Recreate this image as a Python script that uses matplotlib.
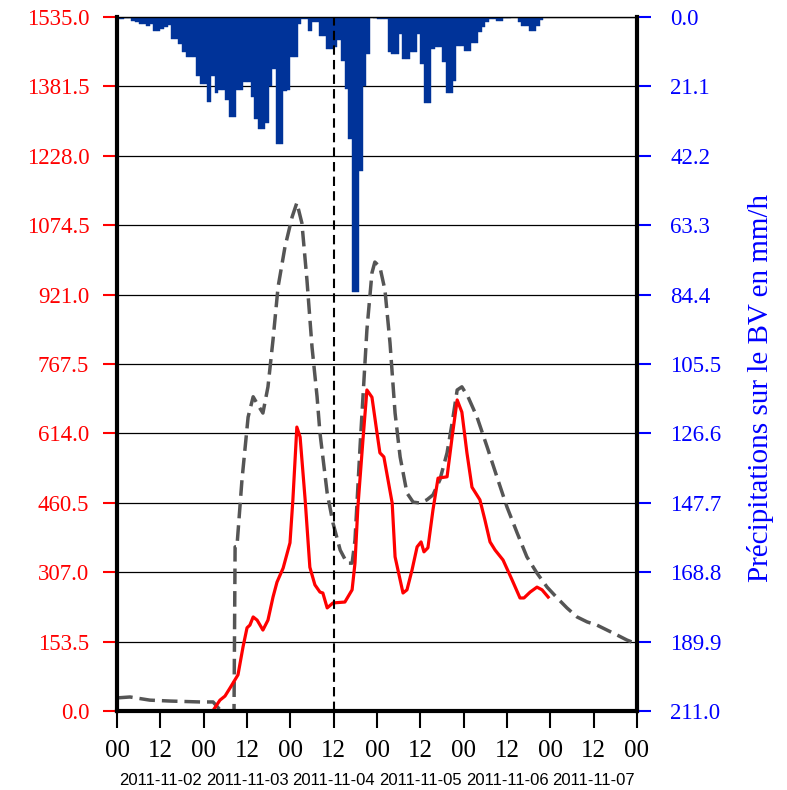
import numpy as np
import pandas as pd
import matplotlib
matplotlib.use("Agg")
import matplotlib.pyplot as plt
import matplotlib.dates as mdates

plt.rcParams['font.family'] = ['Liberation Serif', 'DejaVu Serif']

start = pd.Timestamp("2011-11-02 00:00")

# hourly rainfall over the catchment (mm/h), first value = 2011-11-02 00h
rain = [0.6, 0.6, 0.3, 0.3, 1.2, 1.5, 2.1, 2.1, 2.7, 2.1, 4.2, 4.2,
        3.6, 3.0, 2.4, 6.7, 6.7, 8.2, 10.6, 12.2, 12.2, 12.2, 17.9, 20.4,
        20.4, 25.8, 17.9, 23.1, 22.2, 22.2, 25.2, 30.4, 30.4, 22.2, 22.2, 19.8,
        19.8, 24.3, 31.0, 34.1, 34.1, 32.2, 21.0, 15.8, 38.6, 38.6, 22.5, 22.2,
        12.2, 12.2, 2.1, 0.6, 0.6, 4.3, 1.5, 1.5, 5.8, 5.8, 9.7, 9.7,
        9.1, 7.0, 13.4, 21.9, 37.1, 83.6, 83.6, 46.8, 21.0, 11.2, 0.0, 0.3,
        0.6, 0.6, 0.6, 10.6, 11.2, 11.2, 5.2, 12.8, 12.8, 10.6, 10.6, 5.2,
        14.3, 26.1, 26.1, 9.7, 9.1, 9.1, 13.7, 23.1, 23.1, 19.5, 8.8, 8.8,
        10.3, 10.3, 7.9, 7.9, 4.6, 3.0, 1.5, 0.6, 0.6, 1.2, 1.2, 0.3,
        0.3, 0.1, 0.1, 1.5, 2.7, 2.7, 4.3, 4.3, 2.7, 0.9]

# observed discharge (hours after start, value)
obs_hours = [0, 24.4, 26.5, 28.5, 29.9, 31.3, 33.5, 34.9, 36.0, 36.8, 37.7, 38.8,
             40.4, 41.8, 43.2, 44.3, 46.0, 47.9, 48.7, 49.8, 50.7, 52.1, 53.4, 54.8,
             56.2, 57.0, 58.2, 59.8, 63.1, 65.1, 65.9, 66.7, 68.1, 69.2, 70.6, 72.0,
             72.8, 73.9, 76.2, 77.0, 78.4, 79.2, 80.3, 81.7, 83.1, 84.2, 85.0, 86.1,
             87.5, 88.9, 91.4, 92.8, 94.2, 95.5, 96.9, 98.3, 100.5, 101.9, 103.3, 104.7,
             106.9, 109.4, 111.6, 112.7, 114.4, 116.3, 117.7, 119.4]
obs_values = [0, 0, 0, 24, 33, 51, 80, 142, 184, 190, 208, 201,
              179, 201, 252, 285, 316, 372, 467, 628, 606, 467, 318, 279,
              263, 261, 228, 239, 241, 268, 327, 451, 599, 710, 694, 615,
              571, 562, 460, 341, 290, 261, 268, 312, 363, 374, 352, 361,
              445, 515, 518, 606, 688, 661, 571, 495, 467, 422, 374, 356,
              334, 290, 250, 250, 263, 274, 268, 252]

# simulated discharge (hours after start, value)
sim_hours = [0, 3.6, 9.1, 14.7, 23.0, 26.6, 28.8, 32.4, 32.7, 33.2, 34.6, 36.3,
             37.7, 39.0, 40.4, 41.8, 43.2, 44.6, 46.5, 48.5, 49.8, 51.2, 52.6, 54.0,
             55.4, 56.2, 58.2, 59.8, 61.8, 63.7, 65.1, 65.9, 67.3, 69.2, 70.6, 71.4,
             72.8, 74.2, 75.6, 77.0, 78.4, 80.3, 82.0, 83.9, 85.8, 87.5, 89.4, 91.4,
             92.8, 94.2, 95.5, 97.2, 99.7, 102.5, 105.2, 108.0, 110.8, 113.5, 116.3, 119.1,
             121.9, 124.6, 127.4, 130.2, 132.9, 135.7, 138.5, 141.2, 144.0]
sim_values = [29, 31, 24, 22, 20, 20, 0, 0, 363, 363, 511, 650,
              695, 677, 659, 717, 821, 938, 1026, 1093, 1124, 1079, 953, 805,
              695, 615, 482, 416, 356, 327, 327, 378, 584, 843, 969, 993,
              982, 931, 814, 659, 562, 482, 462, 460, 467, 478, 511, 571,
              637, 710, 717, 695, 650, 584, 518, 451, 394, 341, 305, 274,
              250, 228, 208, 197, 190, 179, 168, 157, 148]

q_ticks = np.arange(0, 1535.1, 153.5)
p_ticks = np.arange(0, 211.05, 21.1)
day_labels = ["2011-11-02", "2011-11-03", "2011-11-04", "2011-11-05", "2011-11-06", "2011-11-07"]
event_hour = 60

rain_t = start + pd.to_timedelta(np.arange(len(rain)), unit="h")
obs_t = start + pd.to_timedelta(obs_hours, unit="h")
sim_t = start + pd.to_timedelta(sim_hours, unit="h")

fig = plt.figure(figsize=(7.87, 7.90), dpi=100)
ax = fig.add_axes([0.1487, 0.1, 0.6607, 0.8785])

ax.grid(axis="y", color="black", linewidth=0.9)
ax.set_axisbelow(True)
ax.plot(sim_t, sim_values, color="#555555", linewidth=2.5, dashes=(4.5, 2))
ax.plot(obs_t, obs_values, color="red", linewidth=2.3)

ax.set_xlim(start, start + pd.Timedelta(days=6))
ax.set_ylim(0, 1535)
ax.set_yticks(q_ticks)
ax.set_yticklabels(["%.1f" % v for v in q_ticks])
ax.tick_params(axis="y", colors="red", length=10, width=1.5, labelsize=16.5, pad=10)
ax.xaxis.set_major_locator(mdates.HourLocator(byhour=[0, 12]))
ax.xaxis.set_major_formatter(mdates.DateFormatter("%H"))
ax.tick_params(axis="x", colors="black", length=12, width=1.5, labelsize=18, pad=9)
for s in ax.spines.values():
    s.set_visible(False)

for i, lab in enumerate(day_labels):
    x = mdates.date2num(start + pd.Timedelta(hours=24 * i + 12))
    ax.text(x, -0.1, lab, transform=ax.get_xaxis_transform(), ha="center", va="center",
            fontsize=12, family="Liberation Sans")

# rainfall hangs from the top on the right axis
ax2 = ax.twinx()
ax2.bar(rain_t, rain, width=1 / 24, align="edge", color="#003399",
        edgecolor="#003399", linewidth=0.3)
ax2.axvline(mdates.date2num(start + pd.Timedelta(hours=event_hour)), color="black",
            linewidth=1.5, dashes=(4.5, 2.5))
ax2.set_ylim(211, 0)
ax2.set_yticks(p_ticks)
ax2.set_yticklabels(["%.1f" % v for v in p_ticks])
ax2.tick_params(axis="y", colors="blue", length=10, width=1.5, labelsize=16.5, pad=14)
ax2.set_ylabel("Précipitations sur le BV en mm/h", color="blue", fontsize=21, labelpad=18)
ax2.yaxis.label.set_y(0.465)
for side in ["left", "right", "bottom"]:
    ax2.spines[side].set_linewidth(3)
ax2.spines["top"].set_linewidth(1)

fig.savefig("out.png", dpi=100)
